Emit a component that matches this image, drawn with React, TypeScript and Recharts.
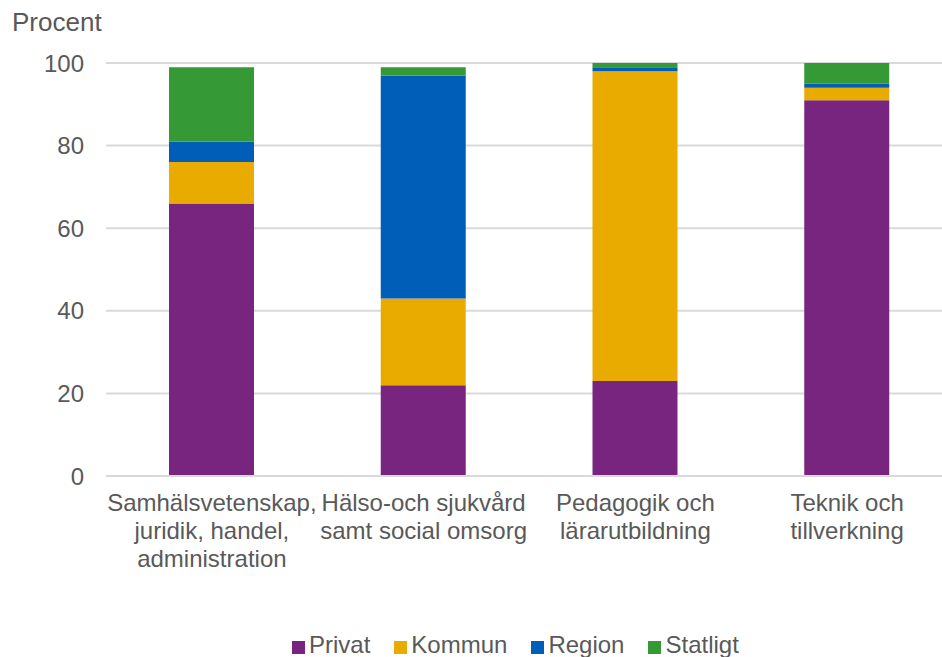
import { BarChart, Bar, XAxis, YAxis, CartesianGrid } from 'recharts';

const categories = [
  ['Samhälsvetenskap,', 'juridik, handel,', 'administration'],
  ['Hälso-och sjukvård', 'samt social omsorg'],
  ['Pedagogik och', 'lärarutbildning'],
  ['Teknik och', 'tillverkning'],
];

const privat = [66, 22, 23, 91];
const kommun = [10, 21, 75, 3];
const region = [5, 54, 1, 1];
const statligt = [18, 2, 1, 5];

const yTicks = [0, 20, 40, 60, 80, 100];

const SERIES = [
  { key: 'privat', name: 'Privat', color: '#782580' },
  { key: 'kommun', name: 'Kommun', color: '#eaab00' },
  { key: 'region', name: 'Region', color: '#005eb8' },
  { key: 'statligt', name: 'Statligt', color: '#359936' },
];

const data = categories.map((lines, i) => ({
  name: lines.join(' '),
  lines,
  privat: privat[i],
  kommun: kommun[i],
  region: region[i],
  statligt: statligt[i],
}));

const FONT = '"Liberation Sans", Arial, sans-serif';
const TEXT = '#595959';

const CategoryTick = (props: any) => {
  const { x, y, index } = props;
  const lines = categories[index] || [];
  return (
    <text x={x} y={y} textAnchor="middle" fill={TEXT} fontSize={24} fontFamily={FONT}>
      {lines.map((line, i) => (
        <tspan key={i} x={x} dy={i === 0 ? 27 : 27.8}>
          {line}
        </tspan>
      ))}
    </text>
  );
};

export default function App() {
  return (
    <div
      style={{
        position: 'absolute',
        left: 0,
        top: 0,
        width: 942,
        height: 657,
        overflow: 'hidden',
        background: '#fff',
        fontFamily: FONT,
      }}
    >
      <div style={{ position: 'absolute', left: 12, top: 7, fontSize: 26, color: TEXT }}>Procent</div>
      <BarChart
        width={953}
        height={657}
        data={data}
        margin={{ top: 63, right: 0, bottom: 71, left: 0 }}
        barCategoryGap={0}
      >
        <CartesianGrid vertical={false} stroke="#d9d9d9" strokeWidth={2} />
        <XAxis
          dataKey="name"
          tick={<CategoryTick />}
          tickLine={false}
          axisLine={{ stroke: '#d9d9d9', strokeWidth: 2 }}
          interval={0}
          height={110}
        />
        <YAxis
          domain={[0, 100]}
          ticks={yTicks}
          width={106}
          tickLine={false}
          axisLine={false}
          tickMargin={16}
          tick={{ fill: TEXT, fontSize: 24, fontFamily: FONT }}
        />
        {SERIES.map((s) => (
          <Bar
            key={s.key}
            dataKey={s.key}
            name={s.name}
            stackId="a"
            fill={s.color}
            barSize={85}
            isAnimationActive={false}
          />
        ))}
      </BarChart>
      <div
        style={{
          position: 'absolute',
          left: 292,
          top: 631,
          display: 'flex',
          alignItems: 'center',
          fontSize: 24,
          color: TEXT,
          whiteSpace: 'nowrap',
        }}
      >
        {SERIES.map((s) => (
          <div key={s.key} style={{ display: 'flex', alignItems: 'center', marginRight: 24 }}>
            <span style={{ display: 'inline-block', width: 13, height: 13, background: s.color, marginRight: 4, marginTop: 4 }} />
            <span>{s.name}</span>
          </div>
        ))}
      </div>
    </div>
  );
}
